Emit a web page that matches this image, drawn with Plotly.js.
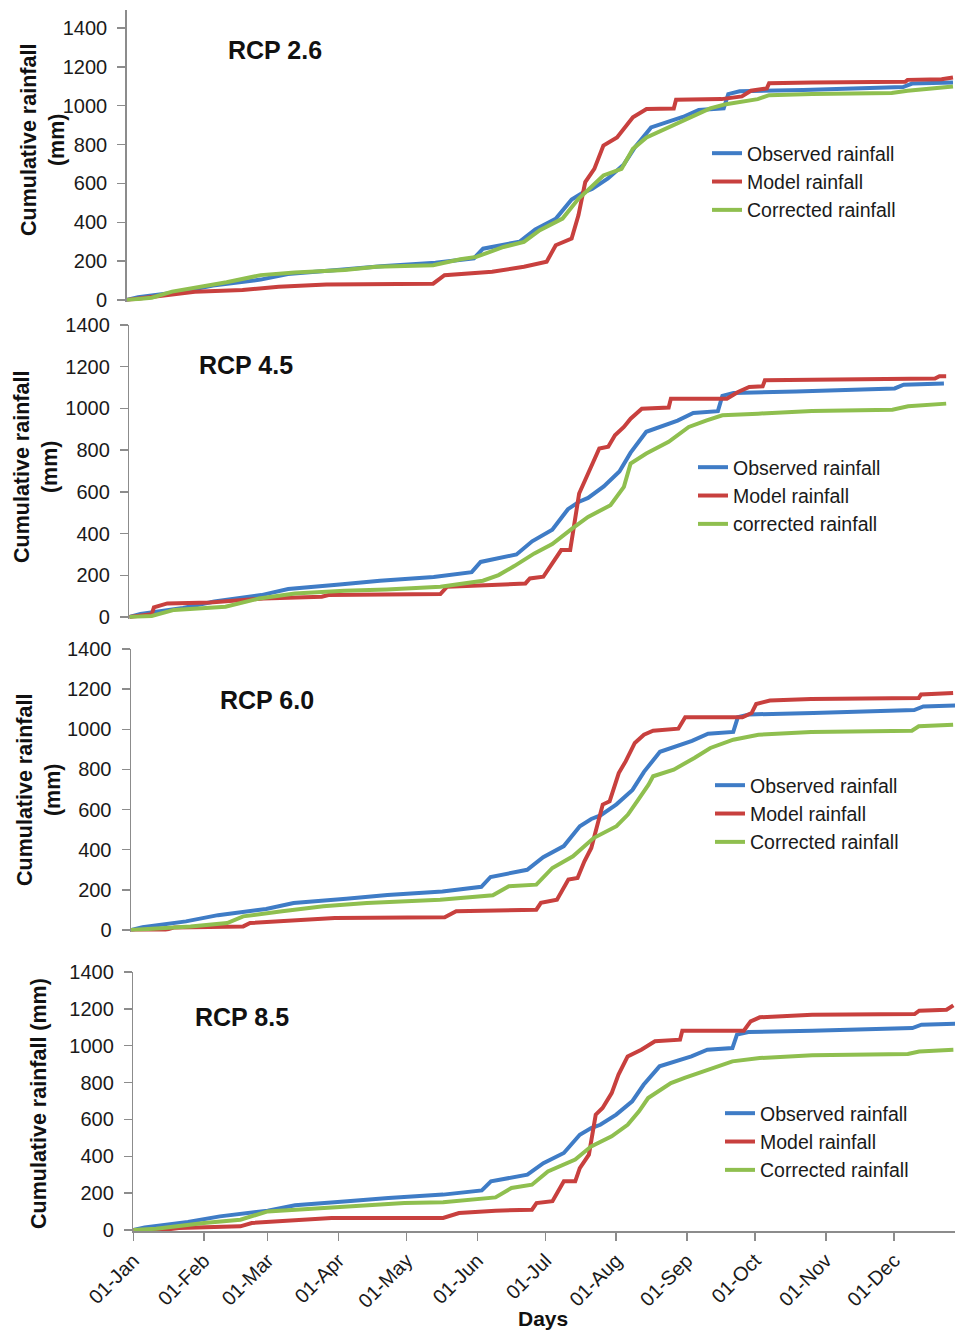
<!DOCTYPE html>
<html>
<head>
<meta charset="utf-8">
<script src="https://cdn.plot.ly/plotly-3.0.1.min.js"></script>
<style>html,body{margin:0;padding:0;background:#fff;}#chart{width:955px;height:1331px;}</style>
</head>
<body>
<div id="chart"></div>
<script>
// ---------- DATA (day of year, 0 = 01-Jan; cumulative rainfall in mm) ----------
var seriesNames = ["Observed rainfall", "Model rainfall", "Corrected rainfall"];
var panelTitles = ["RCP 2.6", "RCP 4.5", "RCP 6.0", "RCP 8.5"];
var monthTicks = ["2021-01-01","2021-02-01","2021-03-01","2021-04-01","2021-05-01","2021-06-01",
                  "2021-07-01","2021-08-01","2021-09-01","2021-10-01","2021-11-01","2021-12-01"];

// Observed rainfall (same in every panel)
var obsDays = [0,5,24,38,59,71,94,112,136,147,153,157,173,180,189,196,201,205,212,219,224,231,238,245,252,263,265,270,298,342,346,364];
var obsVals = [0,14,43,74,105,134,156,174,192,206,215,264,300,363,418,517,553,571,626,698,788,888,915,942,978,987,1060,1074,1081,1096,1114,1120];

// RCP 2.6
var m26Days = [0,11,30,51,67,88,135,140,161,175,185,189,196,199,202,206,210,216,220,223,229,241,242,262,271,275,282,283,302,343,344,359,364];
var m26Vals = [0,17,43,51,68,80,84,128,145,171,197,282,316,436,607,675,795,837,897,940,983,986,1031,1034,1048,1077,1089,1116,1119,1123,1133,1136,1145];
var c26Days = [0,11,20,44,59,74,96,110,135,147,154,166,175,182,192,199,203,210,218,223,229,239,248,257,264,278,283,302,337,344,364];
var c26Vals = [0,12,43,91,128,142,154,171,179,210,222,273,299,359,419,521,564,641,675,778,837,889,940,986,1008,1034,1054,1060,1065,1077,1099];

// RCP 4.5
var m45Days = [0,10,11,17,36,60,86,89,139,142,162,177,179,185,189,193,197,201,205,210,214,217,221,224,229,241,242,267,272,277,283,284,305,360,362,365];
var m45Vals = [0,13,46,65,69,89,97,105,110,145,153,161,185,193,257,321,321,592,688,808,816,871,911,951,999,1004,1047,1047,1079,1103,1106,1135,1138,1143,1154,1154];
var c45Days = [0,10,20,43,58,74,96,115,139,158,165,172,181,189,198,205,215,221,224,231,241,250,258,265,281,305,341,348,365];
var c45Vals = [0,5,34,49,89,113,126,132,145,174,201,244,305,350,425,480,536,624,736,784,840,911,943,967,975,988,994,1010,1023];

// RCP 6.0
var m60Days = [0,15,19,49,52,68,89,137,142,177,179,186,191,195,198,201,206,209,213,216,220,224,228,239,242,267,271,273,279,297,344,345,359];
var m60Vals = [0,0,13,18,35,47,60,63,93,101,135,151,251,259,342,409,625,641,782,840,932,973,993,1003,1060,1060,1081,1126,1143,1151,1156,1173,1181];
var c60Days = [0,10,26,42,49,66,84,103,121,135,158,165,177,184,193,202,212,217,221,226,228,237,246,253,263,274,297,341,344,359];
var c60Vals = [0,7,18,35,68,93,118,135,146,151,173,218,226,309,367,458,517,575,641,724,766,799,857,907,948,973,987,993,1015,1023];

// RCP 8.5
var m85Days = [0,13,20,47,52,66,87,136,143,159,175,177,184,189,194,196,200,203,206,210,213,217,223,229,240,241,268,271,275,298,343,345,357,360];
var m85Vals = [0,0,11,20,38,47,65,65,92,105,110,146,156,264,264,336,409,626,662,743,843,942,978,1024,1033,1081,1081,1132,1154,1168,1172,1190,1195,1219];
var c85Days = [0,10,31,47,59,78,94,101,119,136,145,159,166,175,182,194,201,210,217,222,226,236,242,252,263,275,298,340,345,360];
var c85Vals = [0,7,38,56,101,116,128,134,146,150,161,177,228,246,318,382,454,508,571,644,716,797,825,870,915,933,948,955,969,978];

var yTickVals = [0,200,400,600,800,1000,1200,1400];

// ---------- BUILD ----------
var W = 955, H = 1331;
var DAY = 86400000;
var BASE = Date.UTC(2021,0,1);
function toDates(days){ return days.map(function(d){ return BASE + d*DAY; }); }

var colors = ["#3F7CC6", "#C8403E", "#8FBF4F"];
var font = "Liberation Sans, Arial, Helvetica, sans-serif";

// per-panel geometry (pixels): y-axis x position, px per day, y of 0, y of 1400, top of axis line
var geo = [
  {ax:126.7, ppd:2.270, y0:300,  y1400:28,  top:10},
  {ax:129.3, ppd:2.238, y0:617,  y1400:325, top:325},
  {ax:131.0, ppd:2.290, y0:930,  y1400:649, top:649},
  {ax:133.3, ppd:2.278, y0:1230, y1400:972, top:972}
];
var panelData = [
  [[obsDays,obsVals],[m26Days,m26Vals],[c26Days,c26Vals]],
  [[obsDays,obsVals],[m45Days,m45Vals],[c45Days,c45Vals]],
  [[obsDays,obsVals],[m60Days,m60Vals],[c60Days,c60Vals]],
  [[obsDays,obsVals],[m85Days,m85Vals],[c85Days,c85Vals]]
];
var legendNames = [seriesNames.slice(), [seriesNames[0], seriesNames[1], "corrected rainfall"], seriesNames.slice(), seriesNames.slice()];
// legend text start x and middle row centre y (pixels)
var legendPos = [{x:747,y:182},{x:733,y:496},{x:750,y:814},{x:760,y:1142}];
var titlePos = [{x:275,y:50},{x:246,y:365},{x:267,y:700},{x:242,y:1017}];
var yTitlePos = [{x:43,y:140,two:true},{x:36,y:467,two:true},{x:39,y:790,two:true},{x:39,y:1104,two:false}];

var traces = [];
var layout = {
  width: W, height: H,
  margin: {l:0, r:0, t:0, b:0},
  paper_bgcolor: "#ffffff", plot_bgcolor: "rgba(0,0,0,0)",
  font: {family: font, color: "#1a1a1a", size: 20},
  annotations: [], showlegend: true
};

for (var p = 0; p < 4; p++) {
  var g = geo[p];
  var sfx = p === 0 ? "" : String(p+1);
  var ppu = (g.y0 - g.y1400) / 1400;
  var pad = 8;
  var yTopVal = 1400 + (g.y1400 - g.top) / ppu;
  var xEndDay = (W - g.ax) / g.ppd;
  var legName = p === 0 ? "legend" : "legend" + (p+1);

  for (var s = 0; s < 3; s++) {
    traces.push({
      type: "scatter", mode: "lines",
      x: toDates(panelData[p][s][0]), y: panelData[p][s][1],
      name: legendNames[p][s],
      line: {color: colors[s], width: 4},
      xaxis: "x" + sfx, yaxis: "y" + sfx,
      legend: legName, hoverinfo: "skip"
    });
  }

  layout["xaxis" + sfx] = {
    type: "date",
    domain: [g.ax / W, 1],
    range: [BASE, BASE + xEndDay*DAY],
    anchor: "y" + sfx,
    showgrid: false, zeroline: false,
    visible: p === 3,
    showline: p === 3, linecolor: "#8c8c8c", linewidth: 1.5,
    ticks: p === 3 ? "outside" : "", ticklen: 8, tickwidth: 1.5, tickcolor: "#8c8c8c",
    tickmode: "array", tickvals: monthTicks, tickformat: "%d-%b",
    tickangle: -45, tickfont: {size: 20, color: "#1a1a1a", family: font},
    fixedrange: true
  };
  layout["yaxis" + sfx] = {
    domain: [1 - (g.y0 + pad*ppu) / H, 1 - g.top / H],
    range: [-pad, yTopVal],
    anchor: "x" + sfx,
    showgrid: false, zeroline: false,
    showline: true, linecolor: "#8c8c8c", linewidth: 1.5,
    ticks: "outside", ticklen: 8, tickwidth: 1.5, tickcolor: "#8c8c8c",
    tickmode: "array", tickvals: yTickVals,
    tickfont: {size: 20, color: "#1a1a1a", family: font},
    ticklabelstandoff: 6,
    fixedrange: true
  };
  layout[legName] = {
    x: (legendPos[p].x - 40) / W, xanchor: "left",
    y: 1 - (legendPos[p].y - 48) / H, yanchor: "top",
    bgcolor: "rgba(0,0,0,0)", borderwidth: 0,
    font: {size: 19.5, color: "#1a1a1a", family: font},
    tracegroupgap: 0
  };
  layout.annotations.push({
    text: "<b>" + panelTitles[p] + "</b>", xref: "paper", yref: "paper",
    x: titlePos[p].x / W, y: 1 - titlePos[p].y / H, xanchor: "center", yanchor: "middle",
    showarrow: false, font: {size: 25, color: "#111", family: font}
  });
  layout.annotations.push({
    text: yTitlePos[p].two ? "<b>Cumulative rainfall</b><br><b>(mm)</b>" : "<b>Cumulative rainfall (mm)</b>",
    xref: "paper", yref: "paper", textangle: -90,
    x: yTitlePos[p].x / W, y: 1 - yTitlePos[p].y / H, xanchor: "center", yanchor: "middle",
    showarrow: false, font: {size: 21.5, color: "#111", family: font}
  });
}
layout.annotations.push({
  text: "<b>Days</b>", xref: "paper", yref: "paper",
  x: 543 / W, y: 1 - 1318 / H, xanchor: "center", yanchor: "middle",
  showarrow: false, font: {size: 21, color: "#111", family: font}
});

Plotly.newPlot("chart", traces, layout, {displayModeBar: false, staticPlot: true});
</script>
</body>
</html>
